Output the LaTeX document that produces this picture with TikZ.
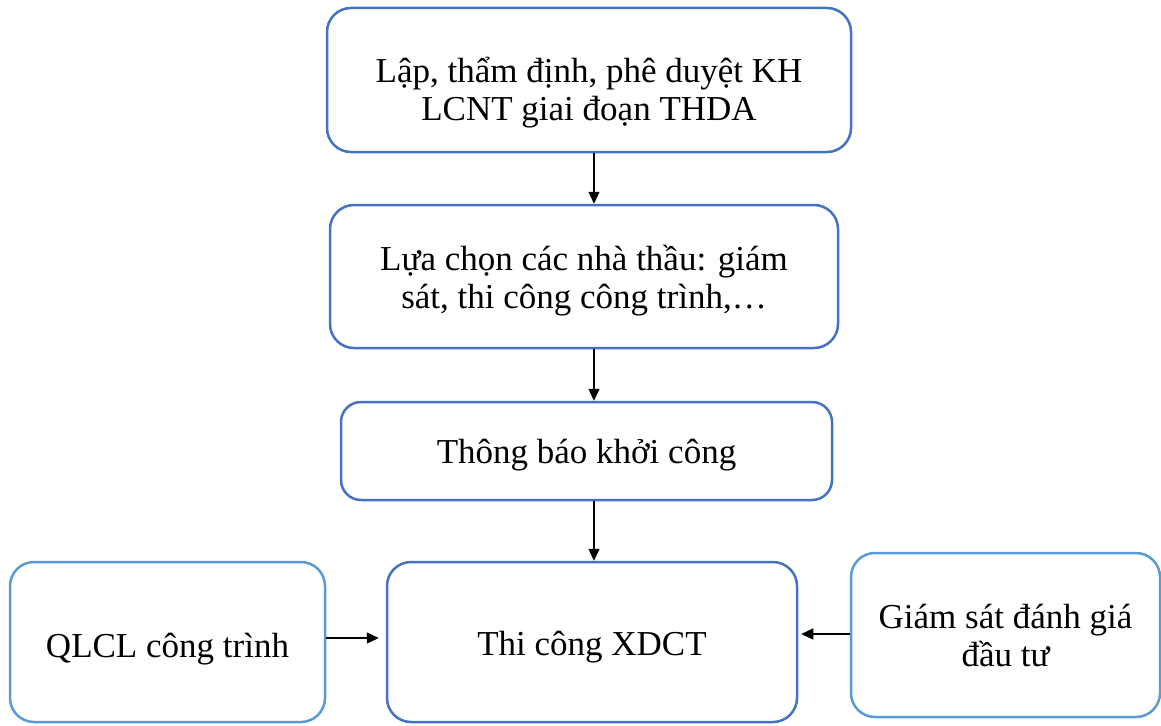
\documentclass[tikz,border=0pt]{standalone}
\usepackage{fontspec}
\setmainfont{Liberation Serif}
\usetikzlibrary{arrows.meta}
\definecolor{mainblue}{HTML}{4472C4}
\definecolor{sideblue}{HTML}{5B9BD5}
\tikzset{
  stepbox/.style={draw=mainblue, line width=2.5pt, rounded corners=24pt,
    align=center, inner sep=0pt, font=\fontsize{35}{38}\selectfont},
  sidebox/.style={stepbox, draw=sideblue},
  % put the last baseline of the text #1/2 below the box centre
  basedown/.style={text height=#1, text depth=0pt},
  flow/.style={line width=1.4pt, -{Triangle[length=12pt,width=11pt]}}
}
\begin{document}
\begin{tikzpicture}[x=1pt,y=-1pt]
  \useasboundingbox (0,0) rectangle (1161,725);
  % main column
  \node[stepbox, basedown=80pt, minimum width=524pt, minimum height=144pt] (plan) at (589,80)
    {Lập, thẩm định, phê duyệt KH\\LCNT giai đoạn THDA};
  \node[stepbox, basedown=63pt, minimum width=508pt, minimum height=143pt] (select) at (584,276.5)
    {Lựa chọn các nhà thầu: giám\\sát, thi công công trình,…};
  \node[stepbox, basedown=24pt, rounded corners=20pt, minimum width=491pt, minimum height=98pt] (notice) at (586.5,451)
    {Thông báo khởi công};
  \node[stepbox, basedown=26pt, minimum width=410pt, minimum height=160pt] (build) at (592,642)
    {Thi công XDCT};
  % side boxes
  \node[sidebox, basedown=30pt, minimum width=315pt, minimum height=160pt] (qlcl) at (167.5,642)
    {QLCL công trình};
  \node[sidebox, basedown=62pt, minimum width=309pt, minimum height=164pt] (gs) at (1005.5,635)
    {Giám sát đánh giá\\đầu tư};
  % connectors
  \coordinate (col) at (594,0);
  \draw[flow] (plan.south -| col) -- (select.north -| col);
  \draw[flow] (select.south -| col) -- (notice.north -| col);
  \draw[flow] (notice.south -| col) -- (build.north -| col);
  \coordinate (rowl) at (0,638);
  \coordinate (rowr) at (0,634);
  \draw[flow, shorten >=7pt] (qlcl.east |- rowl) -- (build.west |- rowl);
  \draw[flow, shorten >=3pt] (gs.west |- rowr) -- (build.east |- rowr);
\end{tikzpicture}
\end{document}
